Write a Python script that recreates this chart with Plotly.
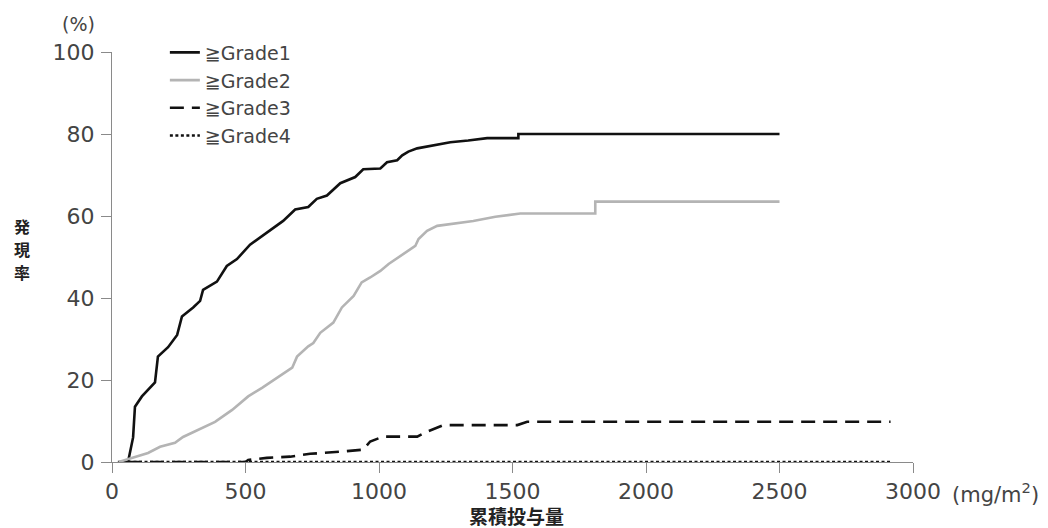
import plotly.graph_objects as go

# ---- data ----
g1_x = [22, 60, 79, 86, 112, 161, 172, 210, 244, 262, 304, 330, 341, 393, 430, 468, 517, 580, 641,
        686, 735, 767, 805, 855, 911, 941, 1005, 1030, 1068, 1087, 1110, 1143, 1200, 1267, 1334,
        1405, 1522, 1522, 2500]
g1_y = [0, 0, 6, 13.5, 16, 19.4, 25.7, 28, 31, 35.5, 37.7, 39.3, 42, 44, 47.8, 49.5, 53, 56, 58.8,
        61.6, 62.2, 64.2, 65, 68, 69.5, 71.4, 71.6, 73.1, 73.6, 74.8, 75.7, 76.5, 77.2, 78, 78.4,
        79, 79, 80, 80]

g2_x = [25, 75, 135, 180, 236, 266, 337, 386, 450, 510, 562, 622, 675, 693, 735, 754, 780, 829,
        861, 905, 935, 967, 1005, 1036, 1080, 1105, 1136, 1148, 1180, 1218, 1267, 1353, 1436,
        1529, 1810, 1810, 2500]
g2_y = [0, 1, 2.2, 3.7, 4.7, 6.1, 8.3, 9.8, 12.7, 16, 18.1, 20.8, 23, 25.7, 28.2, 29, 31.5, 34,
        37.7, 40.5, 43.8, 45, 46.6, 48.3, 50.3, 51.5, 52.7, 54.4, 56.4, 57.6, 58, 58.8, 59.8,
        60.6, 60.6, 63.5, 63.5]

g3_x = [60, 500, 510, 580, 667, 742, 854, 892, 941, 967, 1016, 1143, 1180, 1241, 1518, 1555, 2916]
g3_y = [0, 0, 0.5, 1, 1.3, 2, 2.5, 2.7, 3, 5, 6.2, 6.2, 7.4, 9, 9, 9.8, 9.8]

g4_x = [60, 2916]
g4_y = [0, 0]

names = ["≧Grade1", "≧Grade2", "≧Grade3", "≧Grade4"]
x_ticks = [0, 500, 1000, 1500, 2000, 2500, 3000]
y_ticks = [0, 20, 40, 60, 80, 100]
y_title_chars = ["発", "現", "率"]

FONT = "DejaVu Sans"
JP = "Noto Sans CJK JP"
TXT = "#444444"
AX = "#8a8a8a"

fig = go.Figure()
series = [
    (g1_x, g1_y, names[0], dict(color="#111111", width=2.6, dash="solid")),
    (g2_x, g2_y, names[1], dict(color="#b4b4b4", width=2.6, dash="solid")),
    (g3_x, g3_y, names[2], dict(color="#111111", width=2.6, dash="14px,8px")),
    (g4_x, g4_y, names[3], dict(color="#111111", width=2.6, dash="3px,2.5px")),
]
for i, (xs, ys, nm, ln) in enumerate(series):
    fig.add_trace(go.Scatter(x=xs, y=ys, mode="lines", name=nm, line=ln))

fig.update_layout(
    width=1048, height=528,
    margin=dict(l=112, r=135, t=52, b=66),
    paper_bgcolor="white", plot_bgcolor="white",
    font=dict(family=FONT, color=TXT, size=18),
    showlegend=True,
    legend=dict(x=0.066, y=1.045, xanchor="left", yanchor="top",
                font=dict(family=FONT, size=19, color=TXT),
                bgcolor="rgba(0,0,0,0)", tracegroupgap=0,
                itemwidth=30),
    xaxis=dict(range=[0, 3000], tickvals=x_ticks, ticktext=[str(v) for v in x_ticks],
               showgrid=False, zeroline=False, showline=True, linecolor=AX, linewidth=1,
               ticks="outside", ticklen=10, tickcolor=AX, tickwidth=1,
               tickfont=dict(family=FONT, size=22, color=TXT)),
    yaxis=dict(range=[0, 100], tickvals=y_ticks, ticktext=[str(v) for v in y_ticks],
               showgrid=False, zeroline=False, showline=True, linecolor=AX, linewidth=1,
               ticks="outside", ticklen=10, tickcolor=AX, tickwidth=1,
               tickfont=dict(family=FONT, size=22, color=TXT),
               ticklabelstandoff=2),
)

fig.add_annotation(text="(%)", xref="paper", yref="paper", x=-0.042, y=1.068,
                   xanchor="center", yanchor="middle", showarrow=False,
                   font=dict(family=FONT, size=19, color=TXT))
fig.add_annotation(text="(mg/m<sup>2</sup>)", xref="paper", yref="paper", x=1.046, y=-0.075,
                   xanchor="left", yanchor="middle", showarrow=False,
                   font=dict(family=FONT, size=21, color=TXT))
for k, ch in enumerate(y_title_chars):
    fig.add_annotation(text=ch, xref="paper", yref="paper", x=-0.112,
                       y=0.576 - 0.056 * k,
                       xanchor="center", yanchor="middle", showarrow=False,
                       font=dict(family=JP, size=16, color="#222", weight=700))
fig.add_annotation(text="累積投与量", xref="paper", yref="paper", x=0.505, y=-0.131,
                   xanchor="center", yanchor="middle", showarrow=False,
                   font=dict(family=JP, size=19, color="#222", weight=700))

fig.write_html("out.html")
